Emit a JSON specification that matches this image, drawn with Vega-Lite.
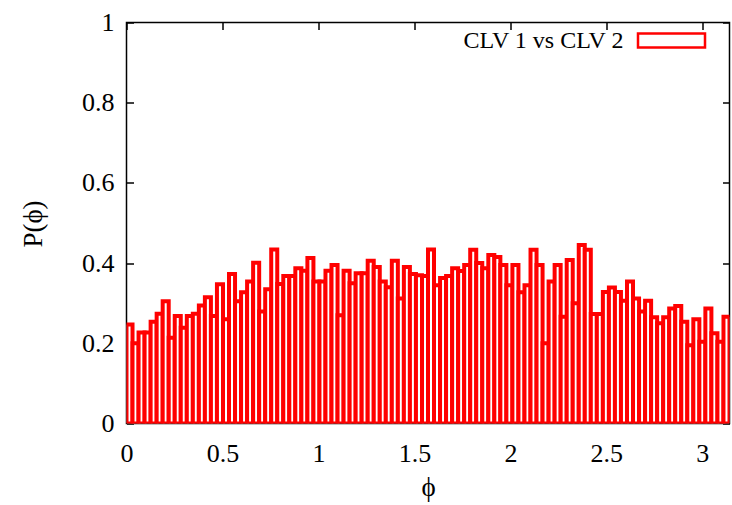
{
  "$schema": "https://vega.github.io/schema/vega-lite/v6.json",
  "width": 603,
  "height": 401,
  "autosize": "none",
  "padding": {"left": 126.5, "top": 22.5, "right": 2.5, "bottom": 81.5},
  "background": "white",
  "config": {
    "view": {"stroke": "black", "strokeWidth": 1.5},
    "axis": {
      "domain": false, "grid": false,
      "labelFont": "Liberation Serif", "titleFont": "Liberation Serif",
      "labelFontSize": 26, "titleFontSize": 27,
      "labelColor": "black", "titleColor": "black", "titleFontWeight": "normal",
      "tickColor": "black", "tickWidth": 1.5, "tickSize": -7, "format": "~g"
    }
  },
  "data": {"values": [
    {"a":0.0000,"b":0.0314,"p":0.247},{"a":0.0314,"b":0.0628,"p":0.200},{"a":0.0628,"b":0.0942,"p":0.227},{"a":0.0942,"b":0.1257,"p":0.227},{"a":0.1257,"b":0.1571,"p":0.254},
    {"a":0.1571,"b":0.1885,"p":0.274},{"a":0.1885,"b":0.2199,"p":0.305},{"a":0.2199,"b":0.2513,"p":0.214},{"a":0.2513,"b":0.2827,"p":0.268},{"a":0.2827,"b":0.3142,"p":0.239},
    {"a":0.3142,"b":0.3456,"p":0.268},{"a":0.3456,"b":0.3770,"p":0.274},{"a":0.3770,"b":0.4084,"p":0.294},{"a":0.4084,"b":0.4398,"p":0.315},{"a":0.4398,"b":0.4712,"p":0.268},
    {"a":0.4712,"b":0.5027,"p":0.347},{"a":0.5027,"b":0.5341,"p":0.260},{"a":0.5341,"b":0.5655,"p":0.373},{"a":0.5655,"b":0.5969,"p":0.305},{"a":0.5969,"b":0.6283,"p":0.327},
    {"a":0.6283,"b":0.6597,"p":0.354},{"a":0.6597,"b":0.6912,"p":0.401},{"a":0.6912,"b":0.7226,"p":0.279},{"a":0.7226,"b":0.7540,"p":0.335},{"a":0.7540,"b":0.7854,"p":0.434},
    {"a":0.7854,"b":0.8168,"p":0.348},{"a":0.8168,"b":0.8482,"p":0.368},{"a":0.8482,"b":0.8796,"p":0.368},{"a":0.8796,"b":0.9111,"p":0.387},{"a":0.9111,"b":0.9425,"p":0.381},
    {"a":0.9425,"b":0.9739,"p":0.413},{"a":0.9739,"b":1.0053,"p":0.354},{"a":1.0053,"b":1.0367,"p":0.354},{"a":1.0367,"b":1.0681,"p":0.381},{"a":1.0681,"b":1.0996,"p":0.395},
    {"a":1.0996,"b":1.1310,"p":0.270},{"a":1.1310,"b":1.1624,"p":0.381},{"a":1.1624,"b":1.1938,"p":0.350},{"a":1.1938,"b":1.2252,"p":0.375},{"a":1.2252,"b":1.2566,"p":0.375},
    {"a":1.2566,"b":1.2881,"p":0.406},{"a":1.2881,"b":1.3195,"p":0.390},{"a":1.3195,"b":1.3509,"p":0.354},{"a":1.3509,"b":1.3823,"p":0.340},{"a":1.3823,"b":1.4137,"p":0.406},
    {"a":1.4137,"b":1.4451,"p":0.312},{"a":1.4451,"b":1.4765,"p":0.390},{"a":1.4765,"b":1.5080,"p":0.373},{"a":1.5080,"b":1.5394,"p":0.370},{"a":1.5394,"b":1.5708,"p":0.368},
    {"a":1.5708,"b":1.6022,"p":0.434},{"a":1.6022,"b":1.6336,"p":0.345},{"a":1.6336,"b":1.6650,"p":0.363},{"a":1.6650,"b":1.6965,"p":0.368},{"a":1.6965,"b":1.7279,"p":0.387},
    {"a":1.7279,"b":1.7593,"p":0.380},{"a":1.7593,"b":1.7907,"p":0.395},{"a":1.7907,"b":1.8221,"p":0.433},{"a":1.8221,"b":1.8535,"p":0.400},{"a":1.8535,"b":1.8850,"p":0.387},
    {"a":1.8850,"b":1.9164,"p":0.420},{"a":1.9164,"b":1.9478,"p":0.415},{"a":1.9478,"b":1.9792,"p":0.395},{"a":1.9792,"b":2.0106,"p":0.345},{"a":2.0106,"b":2.0420,"p":0.395},
    {"a":2.0420,"b":2.0735,"p":0.327},{"a":2.0735,"b":2.1049,"p":0.345},{"a":2.1049,"b":2.1363,"p":0.433},{"a":2.1363,"b":2.1677,"p":0.395},{"a":2.1677,"b":2.1991,"p":0.200},
    {"a":2.1991,"b":2.2305,"p":0.354},{"a":2.2305,"b":2.2619,"p":0.395},{"a":2.2619,"b":2.2934,"p":0.266},{"a":2.2934,"b":2.3248,"p":0.408},{"a":2.3248,"b":2.3562,"p":0.300},
    {"a":2.3562,"b":2.3876,"p":0.445},{"a":2.3876,"b":2.4190,"p":0.433},{"a":2.4190,"b":2.4504,"p":0.273},{"a":2.4504,"b":2.4819,"p":0.273},{"a":2.4819,"b":2.5133,"p":0.328},
    {"a":2.5133,"b":2.5447,"p":0.339},{"a":2.5447,"b":2.5761,"p":0.328},{"a":2.5761,"b":2.6075,"p":0.306},{"a":2.6075,"b":2.6389,"p":0.354},{"a":2.6389,"b":2.6704,"p":0.312},
    {"a":2.6704,"b":2.7018,"p":0.279},{"a":2.7018,"b":2.7332,"p":0.306},{"a":2.7332,"b":2.7646,"p":0.265},{"a":2.7646,"b":2.7960,"p":0.250},{"a":2.7960,"b":2.8274,"p":0.265},
    {"a":2.8274,"b":2.8588,"p":0.287},{"a":2.8588,"b":2.8903,"p":0.293},{"a":2.8903,"b":2.9217,"p":0.254},{"a":2.9217,"b":2.9531,"p":0.195},{"a":2.9531,"b":2.9845,"p":0.260},
    {"a":2.9845,"b":3.0159,"p":0.204},{"a":3.0159,"b":3.0473,"p":0.287},{"a":3.0473,"b":3.0788,"p":0.225},{"a":3.0788,"b":3.1102,"p":0.204},{"a":3.1102,"b":3.1416,"p":0.266}
  ]},
  "layer": [
    {
      "mark": {"type": "rect", "fill": "white", "strokeWidth": 4, "clip": true},
      "encoding": {
        "x": {"field": "a", "type": "quantitative",
              "scale": {"domain": [0, 3.14159], "nice": false, "zero": false},
              "axis": {"orient": "bottom", "values": [0, 0.5, 1, 1.5, 2, 2.5, 3], "title": "ϕ",
                       "labelBaseline": "middle", "labelPadding": 37, "titleBaseline": "middle", "titleY": 64, "labelFlush": false}},
        "x2": {"field": "b"},
        "y": {"field": "p", "type": "quantitative",
              "scale": {"domain": [0, 1], "nice": false},
              "axis": {"orient": "left", "values": [0, 0.2, 0.4, 0.6, 0.8, 1], "title": "P(ϕ)",
                       "labelPadding": 19.5, "labelFlush": false, "titleAngle": -90, "titleBaseline": "middle", "titleAlign": "center", "titleX": -93, "titleY": 201}},
        "y2": {"datum": 0},
        "stroke": {"datum": "CLV 1 vs CLV 2", "type": "nominal",
                   "scale": {"range": ["#ff0000"]},
                   "legend": {"orient": "none", "legendX": 510, "legendY": -17, "title": null, "padding": 0,
                              "symbolType": "M-1,-0.21H1V0.21H-1Z", "symbolSize": 4489, "symbolStrokeWidth": 2.5,
                              "symbolFillColor": "white", "symbolStrokeColor": "#ff0000",
                              "labelFont": "Liberation Serif", "labelFontSize": 24, "labelColor": "black",
                              "labelAlign": "right", "labelOffset": -83, "labelLimit": 0}}
      }
    },
    {
      "mark": {"type": "rect", "opacity": 0},
      "encoding": {
        "x": {"field": "a", "type": "quantitative",
              "axis": {"orient": "top", "values": [0, 0.5, 1, 1.5, 2, 2.5, 3], "labels": false, "title": null}},
        "x2": {"field": "b"},
        "y": {"field": "p", "type": "quantitative",
              "axis": {"orient": "right", "values": [0, 0.2, 0.4, 0.6, 0.8, 1], "labels": false, "title": null}},
        "y2": {"datum": 0}
      }
    }
  ],
  "resolve": {"axis": {"x": "independent", "y": "independent"}}
}
